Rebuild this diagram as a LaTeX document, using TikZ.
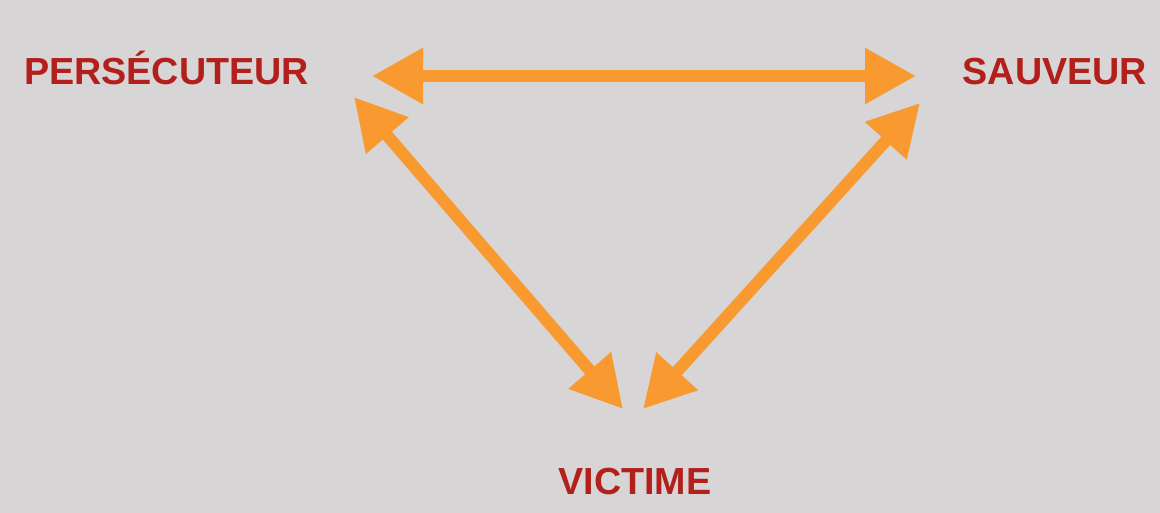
\documentclass[tikz,border=0pt]{standalone}
\usepackage{fontspec}
\setmainfont{Liberation Sans}
\usetikzlibrary{arrows.meta}
\definecolor{bg}{HTML}{D7D5D6}
\definecolor{txtred}{HTML}{B3201B}
\definecolor{arrorange}{HTML}{F89A30}
\tikzset{
  role/.style={text=txtred, font=\fontsize{37.7}{40}\selectfont\bfseries, inner sep=0pt, anchor=base},
  rel/.style={draw=arrorange, line width=12pt, {Triangle[length=51pt,width=53pt]}-{Triangle[length=51pt,width=53pt]}}
}
\begin{document}
\begin{tikzpicture}[x=1pt,y=-1pt]
\fill[bg] (0,0) rectangle (1160,513);
\useasboundingbox (0,0) rectangle (1160,513);
\node[role] (pers) at (166.5,85) {PERSÉCUTEUR};
\node[role] (sauv) at (1055,85) {SAUVEUR};
\node[role] (vict) at (635,494) {VICTIME};
\coordinate (pT) at (372,76);
\coordinate (sT) at (916,76);
\coordinate (pD) at (354,97);
\coordinate (vL) at (623,409);
\coordinate (sD) at (920,103);
\coordinate (vR) at (643,409);
\draw[rel] (pT) -- (sT);
\draw[rel] (pD) -- (vL);
\draw[rel] (sD) -- (vR);
\end{tikzpicture}
\end{document}
